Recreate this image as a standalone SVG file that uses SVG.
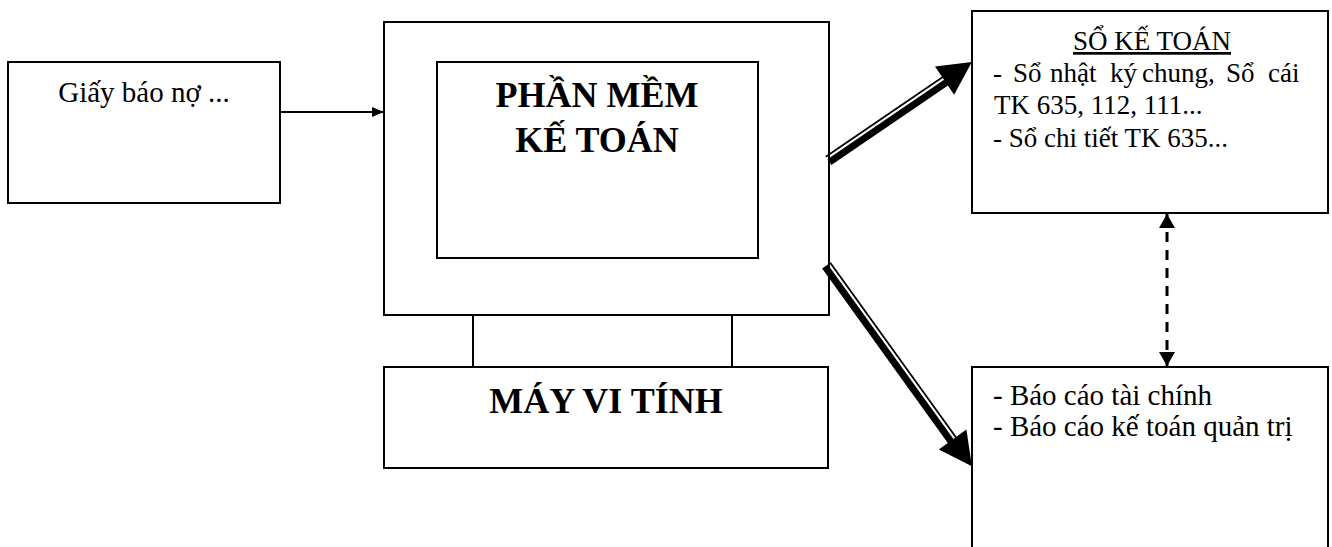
<svg xmlns="http://www.w3.org/2000/svg" width="1332" height="547" viewBox="0 0 1332 547">
<defs>
<style>
.box{fill:#fff;stroke:#000;stroke-width:2}
.ln{stroke:#000;stroke-width:2;fill:none}
.t{font-family:"Liberation Serif","Times New Roman",serif;fill:#000}
.b{font-weight:bold;font-size:36px}
.r{font-size:29px}
</style>
<marker id="ah" viewBox="0 0 12 10" refX="12" refY="5" markerWidth="12" markerHeight="10" markerUnits="userSpaceOnUse" orient="auto">
<path d="M0,0 L12,5 L0,10 Z" fill="#000"/>
</marker>
<marker id="dh" viewBox="0 0 14 16" refX="14" refY="8" markerWidth="14" markerHeight="16" markerUnits="userSpaceOnUse" orient="auto-start-reverse">
<path d="M0,0 L14,8 L0,16 Z" fill="#000"/>
</marker>
</defs>
<rect width="1332" height="547" fill="#fff"/>

<g id="giay-bao-no">
<rect class="box" x="8" y="62" width="272" height="141"/>
<text class="t" x="144" y="102" font-size="29" text-anchor="middle">Giấy báo nợ ...</text>
</g>

<g id="may-vi-tinh">
<rect class="box" x="384" y="22" width="445" height="293"/>
<line class="ln" x1="473" y1="315" x2="473" y2="367"/>
<line class="ln" x1="732" y1="315" x2="732" y2="367"/>
<rect class="box" x="384" y="367" width="444" height="101"/>
<text class="t b" x="606" y="413" text-anchor="middle">MÁY VI TÍNH</text>
</g>

<g id="phan-mem">
<rect class="box" x="437" y="62" width="321" height="196"/>
<text class="t b" x="597" y="107" text-anchor="middle">PHẦN MỀM</text>
<text class="t b" x="597" y="152" text-anchor="middle">KẾ TOÁN</text>
</g>

<g id="so-ke-toan">
<rect class="box" x="972" y="11" width="356" height="202"/>
<text class="t" x="1152" y="50" font-size="27" text-anchor="middle" text-decoration="underline">SỔ KẾ TOÁN</text>
<text class="t" y="82" font-size="27"><tspan x="993">-</tspan><tspan x="1013">Sổ</tspan><tspan x="1050">nhật</tspan><tspan x="1110">ký</tspan><tspan x="1142">chung,</tspan><tspan x="1226">Sổ</tspan><tspan x="1268">cái</tspan></text>
<text class="t" x="994" y="114" font-size="27">TK 635, 112, 111...</text>
<text class="t" x="993" y="147" font-size="27">- Sổ chi tiết TK 635...</text>
</g>

<g id="bao-cao">
<rect class="box" x="972" y="367" width="356" height="200"/>
<text class="t r" x="993" y="405">- Báo cáo tài chính</text>
<text class="t r" x="993" y="436">- Báo cáo kế toán quản trị</text>
</g>

<g id="connectors">
<line class="ln" x1="280" y1="112" x2="384" y2="112" marker-end="url(#ah)"/>
<line x1="1167" y1="214" x2="1167" y2="366" stroke="#000" stroke-width="3" stroke-dasharray="10,8" marker-start="url(#dh)" marker-end="url(#dh)"/>
<g transform="translate(828,160) rotate(-34.24)">
<line x1="0" y1="2.5" x2="146" y2="2.5" stroke="#000" stroke-width="7"/>
<line x1="0" y1="-4" x2="146" y2="-4" stroke="#000" stroke-width="1.8"/>
<path d="M174,0 L141,-17 L141,17 Z" fill="#000"/>
</g>
<g transform="translate(827,265) rotate(54.25)">
<line x1="0" y1="2.5" x2="220" y2="2.5" stroke="#000" stroke-width="7"/>
<line x1="0" y1="-4" x2="220" y2="-4" stroke="#000" stroke-width="1.8"/>
<path d="M248,0 L215,-17 L215,17 Z" fill="#000"/>
</g>
</g>
</svg>
